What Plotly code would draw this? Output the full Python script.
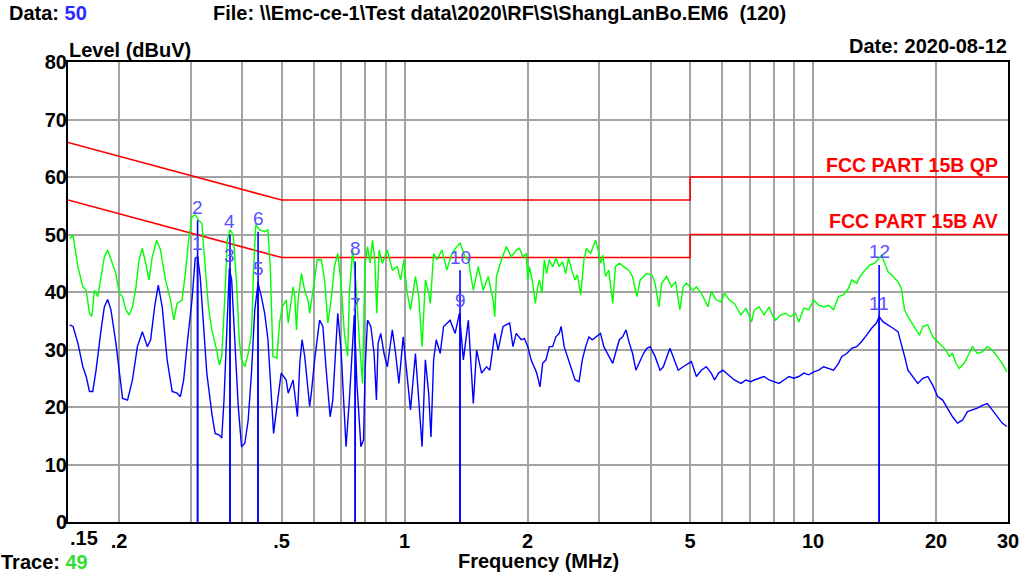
import math
import plotly.graph_objects as go

# ---------------- data ----------------
green_freq = [0.1514, 0.1543, 0.1586, 0.1631, 0.1662, 0.1693, 0.1715, 0.1741, 0.1774, 0.1807, 0.1841, 0.1876,
              0.1911, 0.1965, 0.2002, 0.2040, 0.2078, 0.2117, 0.2157, 0.2198, 0.2239, 0.2281, 0.2324, 0.2368,
              0.2412, 0.2471, 0.2527, 0.2599, 0.2673, 0.2723, 0.2774, 0.2853, 0.2906, 0.2961, 0.3017, 0.3073,
              0.3131, 0.3190, 0.3250, 0.3311, 0.3374, 0.3469, 0.3521, 0.3568, 0.3635, 0.3682, 0.3738, 0.3808,
              0.3880, 0.3938, 0.3989, 0.4064, 0.4141, 0.4219, 0.4274, 0.4322, 0.4420, 0.4545, 0.4630, 0.4691,
              0.4762, 0.4869, 0.4942, 0.5016, 0.5130,
              0.5189, 0.5336, 0.5386, 0.5436, 0.5487, 0.5591, 0.5696, 0.5802, 0.5857, 0.5967, 0.6114, 0.6252,
              0.6370, 0.6489, 0.6611, 0.6734, 0.6862, 0.6991, 0.7122, 0.7257, 0.7325, 0.7462, 0.7602, 0.7746,
              0.7891, 0.7995, 0.8115, 0.8236, 0.8345, 0.8455, 0.8549, 0.8662, 0.8824, 0.9075, 0.9332, 0.9597,
              0.9777, 0.9961, 1.0148, 1.0339, 1.0632, 1.0832, 1.1036, 1.1243, 1.1455, 1.1562, 1.1779, 1.2001,
              1.2342, 1.2691, 1.3051, 1.3421, 1.3673, 1.4060, 1.4325, 1.4731, 1.5148, 1.5578, 1.6018, 1.6472,
              1.6628, 1.6783, 1.7257, 1.7746, 1.8250,
              1.8763, 1.9116, 1.9476, 1.9842, 2.0028, 2.0215, 2.0594, 2.0902, 2.1178, 2.1377, 2.1697, 2.1983,
              2.2272, 2.2607, 2.3032, 2.3465, 2.3906, 2.4349, 2.4812, 2.5186, 2.5658, 2.6145, 2.6486, 2.6983,
              2.7490, 2.7850, 2.8535, 2.9344, 2.9781, 3.0175, 3.0571, 3.1030, 3.1614, 3.2329, 3.2813, 3.3554,
              3.4378, 3.5353, 3.6151, 3.7038, 3.7734, 3.8443, 3.9166, 4.0277, 4.1035, 4.1962, 4.2592, 4.3799,
              4.5039, 4.6061, 4.7191, 4.8079, 4.8983, 4.9902, 5.0840, 5.1797, 5.3264, 5.5285, 5.6329, 5.7921,
              5.9561, 6.0687, 6.2400, 6.4168, 6.5374, 6.6604, 6.8494, 7.0697,
              7.1759, 7.3797, 7.5885, 7.8031, 7.9495, 8.0995, 8.3291, 8.5659, 8.8084, 9.0582, 9.2261, 9.4895,
              9.7592, 10.0355, 10.3197, 10.6125, 10.9131, 11.2224, 11.5403, 11.8675, 12.2033, 12.4330, 12.7853,
              13.0257, 13.3952, 13.7748, 14.1652, 14.5104, 14.7027, 14.9789, 15.2610, 15.6937, 16.1386, 16.4429,
              16.7507, 17.0672, 17.4834, 17.8809, 18.2167, 18.5597, 19.0850, 19.6267, 19.9963, 20.5618, 21.1437,
              21.5427, 21.9481, 22.3607, 22.7791, 23.4271, 24.0909, 24.5408, 25.2376, 25.9516, 26.6885, 27.4442,
              28.2285, 29.0279, 29.8274]
green_level = [49.3, 49.9, 44.4, 40.9, 40.3, 36.3, 35.7, 40.3, 39.2, 42.7, 46.1, 47.3,
               45.6, 43.2, 39.8, 39.2, 36.9, 36.0, 37.4, 40.6, 45.6, 47.6, 45.0, 42.1,
               46.1, 49.0, 47.3, 42.1, 38.6, 35.1, 38.0, 38.6, 43.2, 49.0, 53.1, 53.4,
               52.5, 51.9, 44.4, 37.4, 33.4, 29.9, 27.3, 28.8, 39.8, 49.0, 50.8, 49.9,
               41.5, 31.7, 28.2, 27.0, 29.3, 32.8, 44.4, 51.7, 50.8, 50.5, 50.8, 44.4,
               28.8, 28.5, 34.6, 37.4, 38.6,
               34.6, 40.9, 39.2, 33.4, 38.6, 43.2, 40.3, 38.6, 36.3, 40.3, 45.6, 45.6,
               42.1, 34.6, 38.6, 44.4, 46.7, 41.5, 32.8, 28.8, 39.8, 47.3, 41.5, 31.7,
               24.1, 44.4, 47.9, 45.0, 49.0, 45.6, 36.3, 47.3, 45.0, 47.3, 43.8, 44.4,
               42.1, 45.6, 39.8, 36.9, 42.7, 39.2, 30.5, 42.1, 39.8, 38.0, 46.7, 45.6,
               47.3, 43.8, 46.7, 47.9, 48.5, 46.1, 45.6, 40.3, 44.4, 40.3, 42.7, 38.6,
               35.7, 42.7, 45.6, 47.9, 46.1,
               47.3, 47.6, 46.1, 46.7, 42.1, 44.4, 41.5, 38.0, 40.9, 42.1, 39.8, 45.6,
               43.2, 45.6, 44.4, 45.9, 44.4, 45.3, 43.2, 45.9, 43.8, 42.1, 43.0, 39.5,
               45.6, 47.6, 46.7, 49.0, 47.3, 45.0, 46.4, 42.7, 43.8, 38.0, 44.4, 45.0,
               44.4, 43.8, 42.7, 39.2, 42.1, 42.7, 43.2, 43.0, 41.5, 37.4, 41.5, 42.7,
               40.9, 41.8, 36.9, 40.9, 41.5, 40.9, 40.3, 40.9, 39.8, 37.4, 40.1, 38.6,
               38.3, 39.8, 38.6, 38.0, 36.9, 36.0, 37.2, 34.8,
               36.9, 37.4, 36.0, 37.4, 36.0, 35.1, 36.0, 36.3, 35.7, 36.3, 34.8, 37.2,
               36.9, 38.6, 37.7, 37.4, 37.7, 36.9, 39.2, 39.5, 40.6, 42.1, 41.5,
               42.7, 43.8, 44.7, 45.0, 45.9, 46.4, 45.0, 43.5, 42.7, 41.8, 40.6,
               36.9, 35.7, 34.6, 33.4, 32.5, 34.0, 34.3, 32.2, 31.7, 30.8, 29.9,
               28.8, 29.3, 27.6, 26.7, 27.6, 29.3, 30.5, 29.3, 29.6, 30.5, 29.9,
               28.8, 27.6, 26.1]

blue_freq = [0.1514, 0.1543, 0.1586, 0.1631, 0.1662, 0.1693, 0.1725, 0.1757, 0.1807, 0.1841, 0.1876, 0.1911,
             0.1965, 0.2002, 0.2040, 0.2098, 0.2157, 0.2218, 0.2281, 0.2346, 0.2390, 0.2444, 0.2495, 0.2551,
             0.2623, 0.2698, 0.2774, 0.2826, 0.2879, 0.2944, 0.3017, 0.3073, 0.3114, 0.3160, 0.3220, 0.3280,
             0.3374, 0.3437, 0.3521, 0.3568, 0.3614, 0.3669, 0.3724, 0.3773, 0.3844, 0.3916, 0.3989, 0.4064,
             0.4141, 0.4219, 0.4298, 0.4379, 0.4461, 0.4545, 0.4630, 0.4717, 0.4779, 0.4869, 0.4989, 0.5130,
             0.5189, 0.5336, 0.5467, 0.5539, 0.5611, 0.5696, 0.5781, 0.5857, 0.5912, 0.6023, 0.6194, 0.6310,
             0.6429, 0.6573, 0.6672, 0.6799, 0.6862, 0.6991, 0.7096, 0.7190, 0.7325, 0.7462, 0.7531, 0.7644,
             0.7818, 0.7936, 0.8010, 0.8115, 0.8268, 0.8422, 0.8533, 0.8613, 0.8743, 0.8907, 0.9075, 0.9332,
             0.9507, 0.9686, 0.9923, 1.0054, 1.0339, 1.0632, 1.0832, 1.1036, 1.1243, 1.1455, 1.1605, 1.1779,
             1.1955, 1.2226, 1.2456, 1.2930, 1.3296, 1.3622, 1.3930, 1.4325, 1.4731, 1.5008, 1.5433, 1.5871,
             1.6170, 1.6628, 1.6941, 1.7421, 1.8080, 1.8420,
             1.8763, 1.9296, 1.9658, 2.0028, 2.0403, 2.0786, 2.1060, 2.1456, 2.1778, 2.2189, 2.2607, 2.3032,
             2.3465, 2.3906, 2.4171, 2.4583, 2.5047, 2.5518, 2.6145, 2.6730, 2.7231, 2.7749, 2.8269, 2.8798,
             2.9451, 3.0175, 3.0742, 3.1614, 3.2329, 3.2813, 3.3554, 3.4186, 3.4830, 3.5487, 3.6151, 3.6832,
             3.7524, 3.8443, 3.9166, 3.9903, 4.1035, 4.2198, 4.2993, 4.3799, 4.4626, 4.5714, 4.6754, 4.8079,
             4.9439, 5.0369, 5.1797, 5.3264, 5.4773, 5.6329, 5.7389, 5.8681, 6.0124, 6.1822, 6.4168, 6.6604,
             6.8494, 7.0432,
             7.1759, 7.3797, 7.5885, 7.8031, 8.0241, 8.2516, 8.4862, 8.7266, 8.9742, 9.2261, 9.4895, 9.7592,
             10.0355, 10.3197, 10.6125, 10.9131, 11.2224, 11.5403, 11.7570, 12.0907, 12.4330, 12.7853, 13.1477,
             13.5208, 13.9040, 14.2972, 14.5104, 14.8433, 15.2610, 15.6937, 16.1386, 16.4429, 16.7507, 17.0672,
             17.5508, 18.0481, 18.5597, 19.0850, 19.6267, 20.1822, 20.7548, 21.3418, 21.9481, 22.5681, 23.2096,
             23.8648, 24.5408, 25.2376, 25.9516, 26.6885, 27.4442, 28.2285, 29.0279, 29.8274]
blue_level = [34.3, 34.0, 31.1, 27.0, 25.3, 22.7, 22.7, 26.4, 33.4, 37.4, 38.7, 36.9,
              31.1, 26.4, 21.5, 21.2, 24.7, 30.5, 33.1, 30.5, 31.7, 37.4, 41.2, 37.4,
              28.2, 22.7, 22.4, 21.8, 24.7, 31.7, 38.6, 45.9, 46.1, 42.7, 34.0, 25.9,
              18.9, 15.4, 15.1, 14.6, 21.2, 31.7, 44.1, 42.1, 29.9, 20.1, 13.1, 13.7,
              17.7, 25.9, 36.9, 41.5, 39.2, 36.3, 31.7, 21.2, 15.4, 20.1, 25.9, 24.7,
              22.4, 24.7, 18.3, 27.6, 31.7, 28.8, 23.5, 20.1, 22.4, 28.2, 35.1, 34.0,
              26.4, 18.3, 21.2, 32.8, 36.3, 29.9, 20.1, 13.1, 21.2, 32.8, 36.0, 24.1,
              13.1, 14.3, 27.0, 35.1, 34.0, 29.3, 21.2, 31.1, 32.8, 29.3, 27.0, 33.4,
              29.3, 24.1, 32.2, 28.2, 19.5, 29.3, 21.2, 13.1, 28.2, 22.4, 14.8, 28.2,
              31.7, 29.3, 34.0, 35.1, 32.8, 36.3, 28.2, 35.1, 20.6, 29.9, 25.9, 27.0,
              26.4, 32.8, 29.9, 34.0, 34.6, 30.5,
              32.8, 31.7, 31.9, 30.5, 28.2, 27.0, 25.9, 23.5, 27.6, 28.2, 30.5, 30.5,
              32.2, 32.8, 34.0, 30.5, 28.8, 27.0, 24.7, 24.4, 28.2, 30.5, 32.2, 31.7,
              32.2, 32.8, 30.5, 28.8, 27.6, 29.3, 31.7, 32.2, 33.4, 31.1, 29.3, 26.4,
              27.6, 29.3, 30.2, 30.5, 28.8, 26.4, 27.0, 28.8, 30.2, 28.2, 26.4, 27.0,
              27.6, 27.9, 25.3, 26.4, 27.0, 25.9, 24.7, 25.9, 26.4, 25.6, 24.7, 24.1,
              24.7, 24.4,
              24.7, 25.0, 25.3, 24.7, 24.4, 24.1, 24.7, 25.3, 25.0, 25.3, 25.9, 25.6,
              26.1, 26.4, 27.0, 26.7, 26.4, 27.6, 28.8, 29.3, 30.2, 30.5, 31.4,
              32.5, 33.7, 34.6, 35.7, 34.8, 34.3, 33.7, 33.1, 31.1, 28.8, 26.4,
              25.3, 24.1, 25.0, 25.3, 23.8, 21.8, 21.2, 19.8, 18.3, 17.2, 17.7,
              19.2, 19.5, 19.8, 20.3, 20.6, 19.5, 18.3, 17.2, 16.6]

qp_limit_freq = [0.15, 0.5, 5.0, 5.0, 30.0]
qp_limit_level = [66, 56, 56, 60, 60]
av_limit_freq = [0.15, 0.5, 5.0, 5.0, 30.0]
av_limit_level = [56, 46, 46, 50, 50]

marker_ids = ["1", "2", "3", "4", "5", "6", "7", "8", "9", "10", "11", "12"]
marker_freq = [0.3114, 0.3114, 0.3738, 0.3738, 0.4379, 0.4379, 0.757, 0.757, 1.367, 1.367, 14.51, 14.51]
marker_level = [46.1, 52.5, 44.1, 50.0, 41.8, 50.5, 35.6, 45.3, 36.3, 43.8, 35.7, 44.7]

x_tick_vals = [0.2, 0.3, 0.4, 0.5, 0.6, 0.7, 0.8, 0.9, 1, 2, 3, 4, 5, 6, 7, 8, 9, 10, 20, 30]
x_tick_text = [".2", "", "", ".5", "", "", "", "", "1", "2", "", "", "5", "", "", "", "", "10", "20", "30"]
y_tick_vals = [0, 10, 20, 30, 40, 50, 60, 70, 80]

# ---------------- styles ----------------
FONT = "Liberation Sans, Arial, sans-serif"
GRID = "#a3a3a3"
GREEN = "#00ff00"
BLUE = "#0000ff"
RED = "#ff0000"
LABEL = "#5a50ff"
FS = 20

fig = go.Figure()

fig.add_trace(go.Scatter(x=qp_limit_freq, y=qp_limit_level, mode="lines",
                         line=dict(color=RED, width=1.6), hoverinfo="skip"))
fig.add_trace(go.Scatter(x=av_limit_freq, y=av_limit_level, mode="lines",
                         line=dict(color=RED, width=1.6), hoverinfo="skip"))
fig.add_trace(go.Scatter(x=green_freq, y=green_level, mode="lines",
                         line=dict(color=GREEN, width=1.4)))
fig.add_trace(go.Scatter(x=blue_freq, y=blue_level, mode="lines",
                         line=dict(color=BLUE, width=1.4)))

# marker vertical lines
mx, my = [], []
for f, lv in zip(marker_freq, marker_level):
    mx += [f, f, None]
    my += [0, lv, None]
fig.add_trace(go.Scatter(x=mx, y=my, mode="lines", line=dict(color=BLUE, width=1.6)))

annotations = []
for mid, f, lv in zip(marker_ids, marker_freq, marker_level):
    annotations.append(dict(x=math.log10(f), y=lv, xref="x", yref="y", text=mid, showarrow=False,
                            yshift=13, yanchor="middle", xanchor="center",
                            font=dict(family=FONT, size=19, color=LABEL)))

bold = dict(family=FONT, size=FS, color="black", weight="bold")
red_bold = dict(family=FONT, size=19.5, color=RED, weight="bold")

annotations += [
    dict(xref="paper", yref="paper", x=0, y=1, xshift=-61, yshift=49, xanchor="left", yanchor="middle",
         text="Data: <span style='color:#2a2aff'>50</span>", showarrow=False, font=bold),
    dict(xref="paper", yref="paper", x=0, y=1, xshift=143, yshift=49, xanchor="left", yanchor="middle",
         text=r"File: \\Emc-ce-1\Test data\2020\RF\S\ShangLanBo.EM6&nbsp; (120)", showarrow=False, font=bold),
    dict(xref="paper", yref="paper", x=0, y=1, xshift=-1, yshift=12.5, xanchor="left", yanchor="middle",
         text="Level (dBuV)", showarrow=False, font=bold),
    dict(xref="paper", yref="paper", x=1, y=1, xshift=1, yshift=16.5, xanchor="right", yanchor="middle",
         text="Date: 2020-08-12", showarrow=False, font=bold),
    dict(xref="paper", yref="paper", x=0.5, y=0, yshift=-39, xanchor="center", yanchor="middle",
         text="Frequency (MHz)", showarrow=False, font=bold),
    dict(xref="paper", yref="paper", x=0, y=0, xshift=-69, yshift=-40, xanchor="left", yanchor="middle",
         text="Trace: <span style='color:#33dd33'>49</span>", showarrow=False, font=bold),
    dict(xref="x", yref="paper", x=math.log10(0.15), y=0, xshift=0, yshift=-15.5, xanchor="left",
         yanchor="middle", text=".15", showarrow=False, font=bold),
    dict(xref="paper", yref="y", x=1, y=60, xshift=-8, yshift=12, xanchor="right", yanchor="middle",
         text="FCC PART 15B QP", showarrow=False, font=red_bold),
    dict(xref="paper", yref="y", x=1, y=50, xshift=-8, yshift=13.5, xanchor="right", yanchor="middle",
         text="FCC PART 15B AV", showarrow=False, font=red_bold),
]

fig.update_layout(
    width=1031, height=575, autosize=False,
    margin=dict(l=68, r=14, t=62, b=53),
    paper_bgcolor="white", plot_bgcolor="white",
    showlegend=False,
    annotations=annotations,
    font=dict(family=FONT),
)
fig.update_xaxes(type="log", range=[math.log10(0.15), math.log10(30)],
                 tickmode="array", tickvals=x_tick_vals, ticktext=x_tick_text,
                 showgrid=True, gridcolor=GRID, gridwidth=2,
                 showline=True, linecolor="black", linewidth=2, mirror=True,
                 ticks="", tickfont=bold, zeroline=False)
fig.update_yaxes(range=[0, 80], tickmode="array", tickvals=y_tick_vals,
                 showgrid=True, gridcolor=GRID, gridwidth=2,
                 showline=True, linecolor="black", linewidth=2, mirror=True,
                 ticks="", ticklabelstandoff=-5,
                 tickfont=bold, zeroline=False)

fig.write_html("out.html", config={"displayModeBar": False},
               post_script="document.body.style.margin='0';document.body.style.overflow='hidden';")
